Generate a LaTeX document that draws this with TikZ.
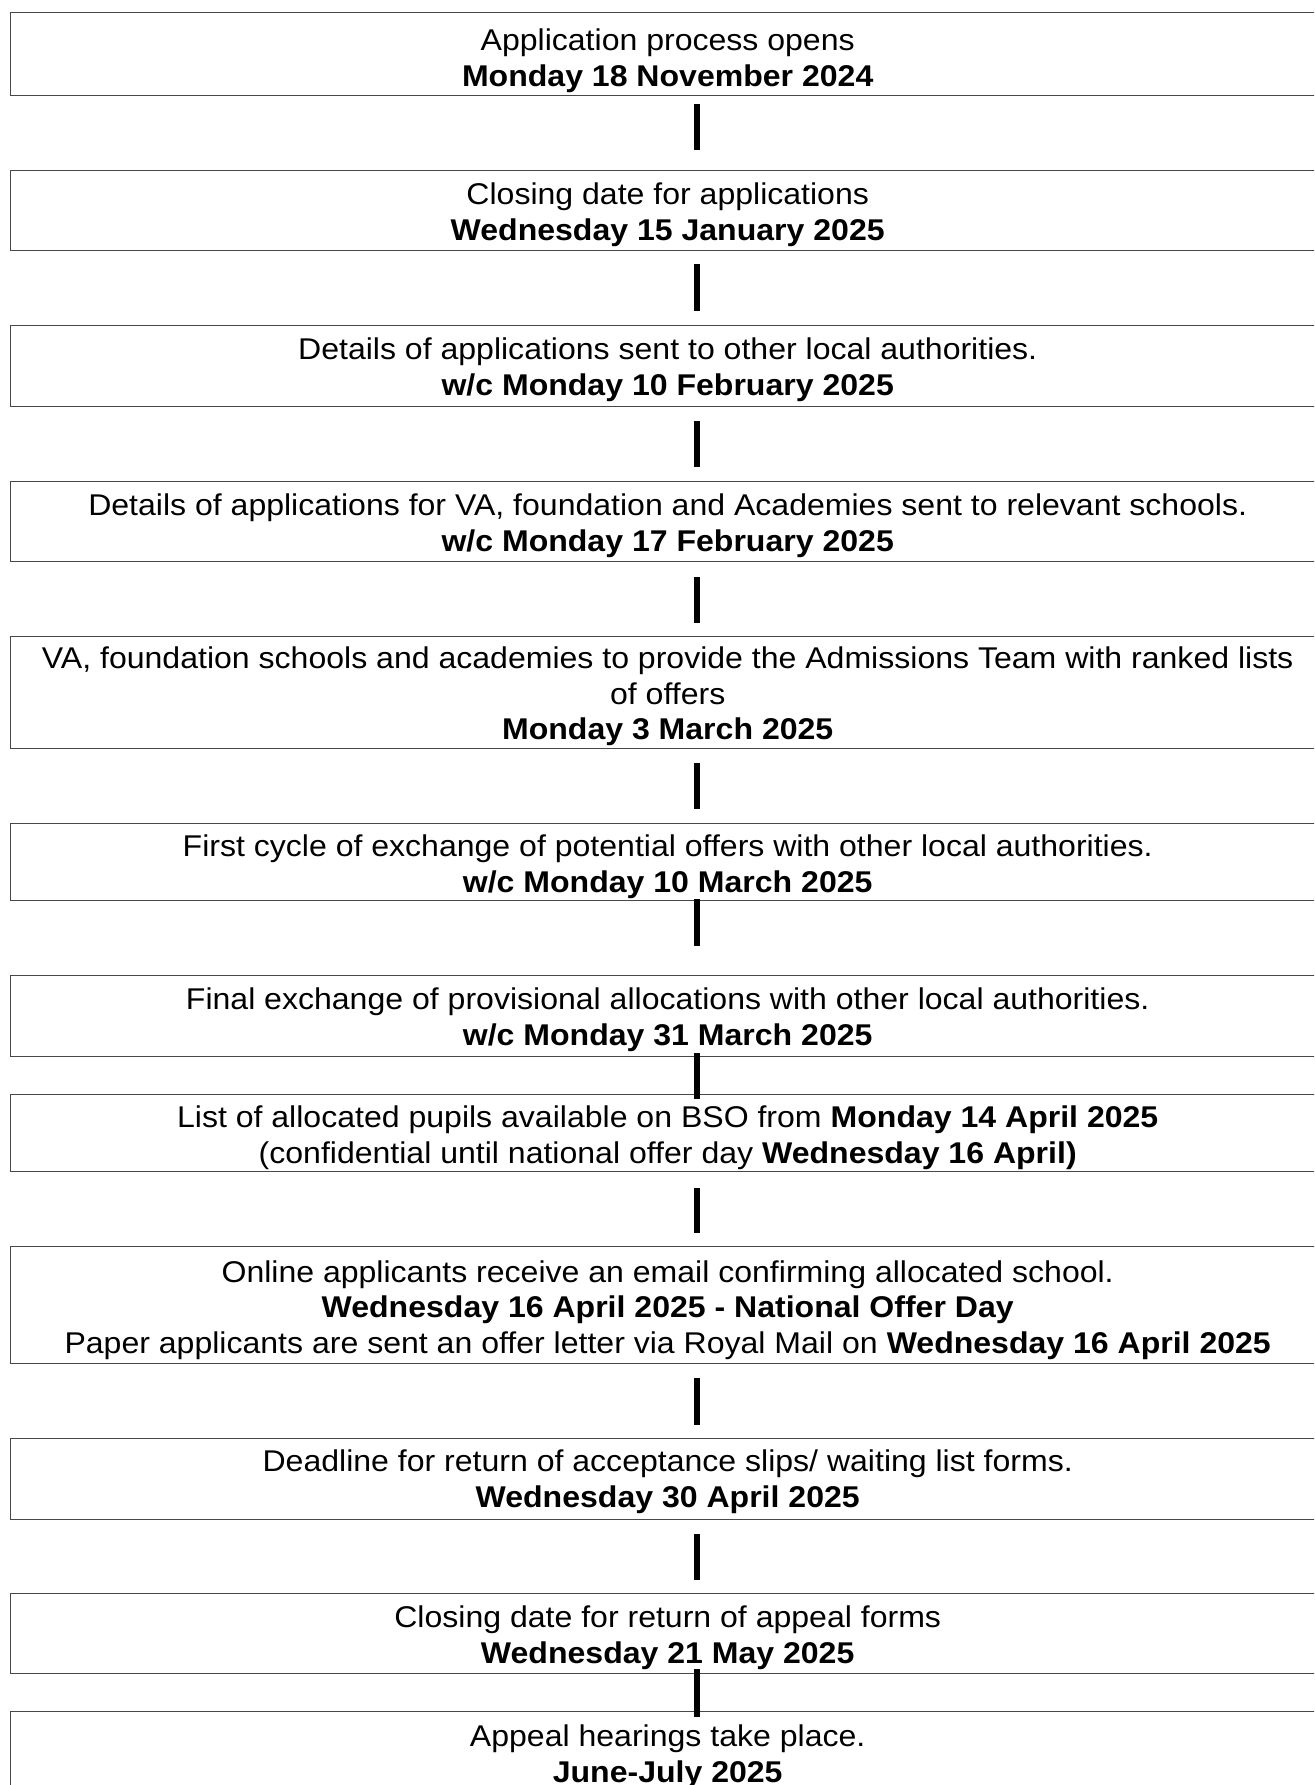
\documentclass[tikz,border=0pt]{standalone}
\usepackage{fontspec}
\setmainfont{Liberation Sans}[FakeStretch=1.068]
\begin{document}
\begin{tikzpicture}[x=1pt,y=1pt,
  box/.style={draw=black!72, line width=1.4pt, inner sep=0pt, minimum width=1314pt, anchor=north west},
  txt/.style={align=center, inner sep=0pt, anchor=north, font=\fontsize{30}{35.5}\selectfont},
  conn/.style={line width=5.5pt, draw=black}]
\fill[white] (0,0) rectangle (1314,-1785);
\useasboundingbox (0,0) rectangle (1314,-1785);
\clip (0,0) rectangle (1314,-1785);
\coordinate (ax) at (697,0);
% boxes
\node[box, minimum height=83pt]  (b1)  at (10,-12)   {};
\node[box, minimum height=80pt]  (b2)  at (10,-170)  {};
\node[box, minimum height=80.5pt](b3)  at (10,-325)  {};
\node[box, minimum height=80pt]  (b4)  at (10,-481)  {};
\node[box, minimum height=112pt] (b5)  at (10,-636)  {};
\node[box, minimum height=77pt]  (b6)  at (10,-823)  {};
\node[box, minimum height=81pt]  (b7)  at (10,-975)  {};
\node[box, minimum height=77pt]  (b8)  at (10,-1094) {};
\node[box, minimum height=117pt] (b9)  at (10,-1246) {};
\node[box, minimum height=81pt]  (b10) at (10,-1438) {};
\node[box, minimum height=80pt]  (b11) at (10,-1593) {};
\node[box, minimum height=110pt] (b12) at (10,-1711) {};
% texts
\node[txt] (t1) at ([yshift=-13.5pt]b1.north) {\rule{0pt}{25pt}Application process opens\\\textbf{Monday 18 November 2024}};
\node[txt] (t2) at ([yshift=-9.5pt]b2.north) {\rule{0pt}{25pt}Closing date for applications\\\textbf{Wednesday 15 January 2025}};
\node[txt] (t3) at ([yshift=-9.5pt]b3.north) {\rule{0pt}{25pt}Details of applications sent to other local authorities.\\\textbf{w/c Monday 10 February 2025}};
\node[txt] (t4) at ([yshift=-9.5pt]b4.north) {\rule{0pt}{25pt}Details of applications for VA, foundation and Academies sent to relevant schools.\\\textbf{w/c Monday 17 February 2025}};
\node[txt] (t5) at ([yshift=-7.5pt]b5.north) {\rule{0pt}{25pt}VA, foundation schools and academies to provide the Admissions Team with ranked lists\\of offers\\\textbf{Monday 3 March 2025}};
\node[txt] (t6) at ([yshift=-8.5pt]b6.north) {\rule{0pt}{25pt}First cycle of exchange of potential offers with other local authorities.\\\textbf{w/c Monday 10 March 2025}};
\node[txt] (t7) at ([yshift=-9.5pt]b7.north) {\rule{0pt}{25pt}Final exchange of provisional allocations with other local authorities.\\\textbf{w/c Monday 31 March 2025}};
\node[txt] (t8) at ([yshift=-8.5pt]b8.north) {\rule{0pt}{25pt}List of allocated pupils available on BSO from \textbf{Monday 14 April 2025}\\(confidential until national offer day \textbf{Wednesday 16 April)}};
\node[txt] (t9) at ([yshift=-11pt]b9.north) {\rule{0pt}{25pt}Online applicants receive an email confirming allocated school.\\\textbf{Wednesday 16 April 2025 - National Offer Day}\\Paper applicants are sent an offer letter via Royal Mail on \textbf{Wednesday 16 April 2025}};
\node[txt] (t10) at ([yshift=-8.5pt]b10.north) {\rule{0pt}{25pt}Deadline for return of acceptance slips/ waiting list forms.\\\textbf{Wednesday 30 April 2025}};
\node[txt] (t11) at ([yshift=-9.5pt]b11.north) {\rule{0pt}{25pt}Closing date for return of appeal forms\\\textbf{Wednesday 21 May 2025}};
\node[txt] (t12) at ([yshift=-10.5pt]b12.north) {\rule{0pt}{25pt}Appeal hearings take place.\\\textbf{June-July 2025}};
% connectors
\draw[conn, shorten <=8pt,  shorten >=20pt] (b1.south -| ax) -- (b2.north -| ax);
\draw[conn, shorten <=13pt, shorten >=14pt] (b2.south -| ax) -- (b3.north -| ax);
\draw[conn, shorten <=14.5pt, shorten >=14pt] (b3.south -| ax) -- (b4.north -| ax);
\draw[conn, shorten <=15pt, shorten >=13pt] (b4.south -| ax) -- (b5.north -| ax);
\draw[conn, shorten <=14pt, shorten >=14pt] (b5.south -| ax) -- (b6.north -| ax);
\draw[conn, shorten <=-2pt, shorten >=29pt] (b6.south -| ax) -- (b7.north -| ax);
\draw[conn, shorten <=-4pt, shorten >=-5pt] (b7.south -| ax) -- (b8.north -| ax);
\draw[conn, shorten <=16pt, shorten >=13pt] (b8.south -| ax) -- (b9.north -| ax);
\draw[conn, shorten <=14pt, shorten >=13pt] (b9.south -| ax) -- (b10.north -| ax);
\draw[conn, shorten <=14pt, shorten >=13pt] (b10.south -| ax) -- (b11.north -| ax);
\draw[conn, shorten <=-5pt, shorten >=-6pt] (b11.south -| ax) -- (b12.north -| ax);
\end{tikzpicture}
\end{document}
